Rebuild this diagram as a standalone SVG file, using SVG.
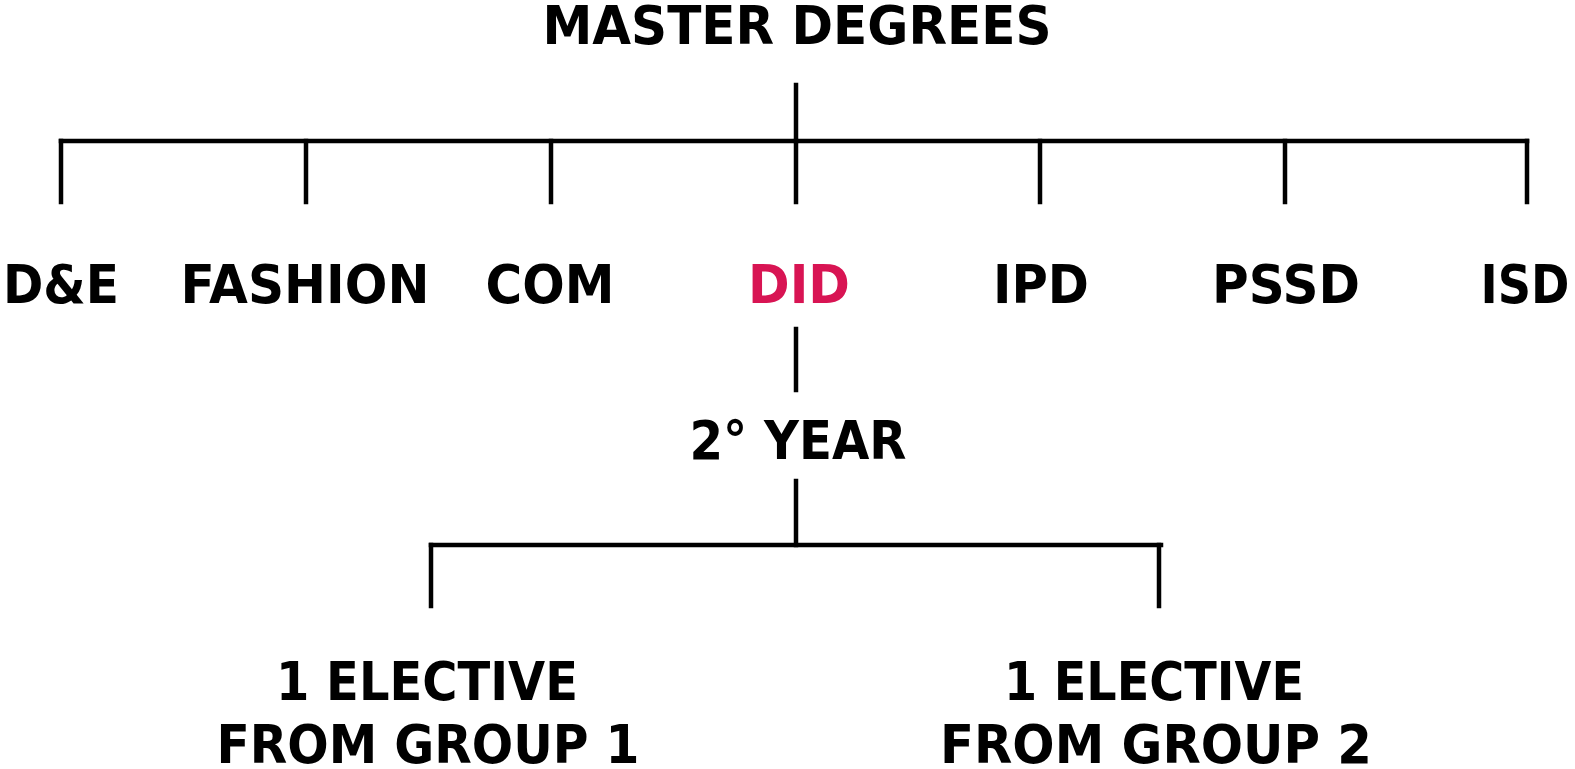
<svg xmlns="http://www.w3.org/2000/svg" width="1575" height="769" viewBox="0 0 1575 769">
<style>
.t{font-family:"DejaVu Sans","Liberation Sans",sans-serif;font-weight:bold;font-size:53px;fill:#000;text-anchor:middle}
.hl{fill:#D81453}
.c{stroke:#000;stroke-width:4.5;fill:none;stroke-linecap:square}
</style>
<rect width="1575" height="769" fill="#fff"/>
<g id="connectors">
<line class="c" x1="796" y1="85" x2="796" y2="141"/>
<line class="c" x1="61" y1="141" x2="1527" y2="141"/>
<line class="c" x1="61" y1="141" x2="61" y2="202"/>
<line class="c" x1="306" y1="141" x2="306" y2="202"/>
<line class="c" x1="551" y1="141" x2="551" y2="202"/>
<line class="c" x1="796" y1="141" x2="796" y2="202"/>
<line class="c" x1="1040" y1="141" x2="1040" y2="202"/>
<line class="c" x1="1285" y1="141" x2="1285" y2="202"/>
<line class="c" x1="1527" y1="141" x2="1527" y2="202"/>
<line class="c" x1="796" y1="329" x2="796" y2="390"/>
<line class="c" x1="796" y1="481" x2="796" y2="545"/>
<line class="c" x1="431" y1="545" x2="1161" y2="545"/>
<line class="c" x1="431" y1="545" x2="431" y2="606"/>
<line class="c" x1="1159" y1="545" x2="1159" y2="606"/>
</g>
<g id="master"><text class="t" x="797" y="44" textLength="509" lengthAdjust="spacingAndGlyphs">MASTER DEGREES</text></g>
<g id="de"><text class="t" x="61" y="303" textLength="116" lengthAdjust="spacingAndGlyphs">D&amp;E</text></g>
<g id="fashion"><text class="t" x="305" y="303" textLength="249" lengthAdjust="spacingAndGlyphs">FASHION</text></g>
<g id="com"><text class="t" x="550" y="303" textLength="129" lengthAdjust="spacingAndGlyphs">COM</text></g>
<g id="did"><text class="t hl" x="799" y="303" textLength="102" lengthAdjust="spacingAndGlyphs">DID</text></g>
<g id="ipd"><text class="t" x="1041" y="303" textLength="96" lengthAdjust="spacingAndGlyphs">IPD</text></g>
<g id="pssd"><text class="t" x="1286" y="303" textLength="148" lengthAdjust="spacingAndGlyphs">PSSD</text></g>
<g id="isd"><text class="t" x="1525" y="303" textLength="89" lengthAdjust="spacingAndGlyphs">ISD</text></g>
<g id="year"><text class="t" x="798" y="459" textLength="217" lengthAdjust="spacingAndGlyphs">2° YEAR</text></g>
<g id="group1">
<text class="t" x="427" y="700" textLength="302" lengthAdjust="spacingAndGlyphs">1 ELECTIVE</text>
<text class="t" x="428" y="763" textLength="423" lengthAdjust="spacingAndGlyphs">FROM GROUP 1</text>
</g>
<g id="group2">
<text class="t" x="1154" y="700" textLength="300" lengthAdjust="spacingAndGlyphs">1 ELECTIVE</text>
<text class="t" x="1156" y="763" textLength="432" lengthAdjust="spacingAndGlyphs">FROM GROUP 2</text>
</g>
</svg>
